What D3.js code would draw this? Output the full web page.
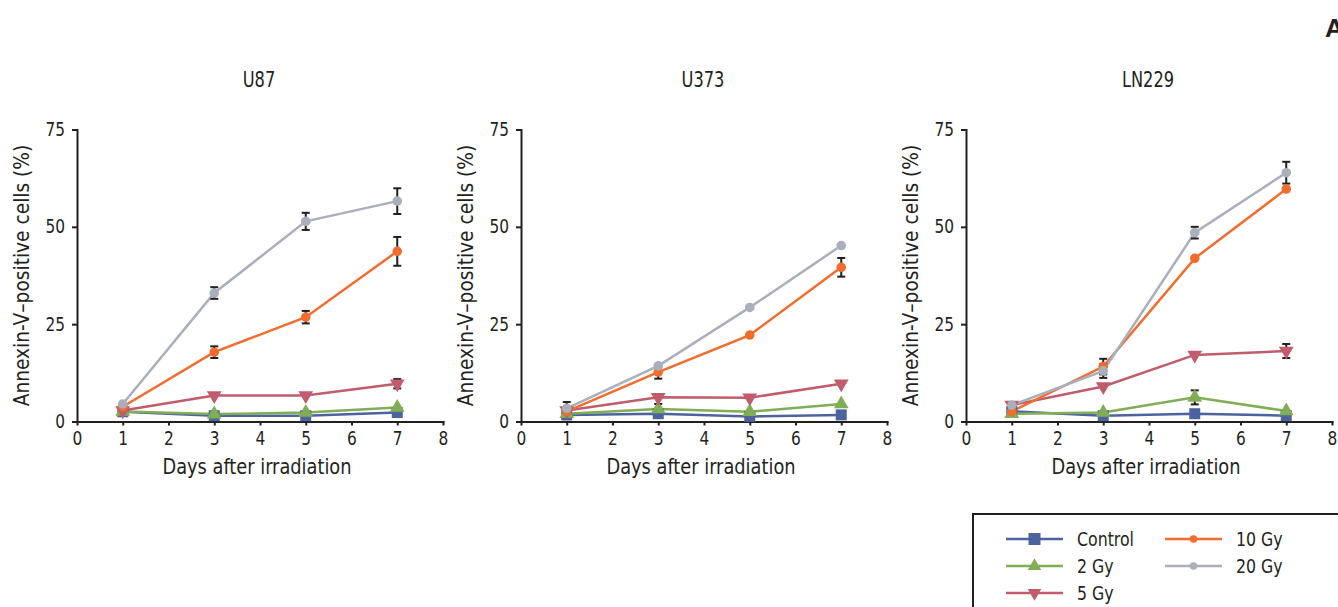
<!DOCTYPE html>
<html lang="en">
<head>
  <meta charset="utf-8">
  <title>Annexin-V positive cells after irradiation</title>
  <script src="https://d3js.org/d3.v7.min.js"></script>
  <style>
    body { margin: 0; background: #fff; }
    text {
      font-family: "DejaVu Sans Condensed", "Liberation Sans Narrow", "Roboto", sans-serif;
      fill: #231f20;
      transform-box: fill-box;
    }
    .axis path, .axis line { stroke: #231f20; stroke-width: 2; }
    .x-axis .tick text { font-size: 19px; transform-origin: center; transform: scaleX(0.9); }
    .y-axis .tick text { font-size: 19px; transform-origin: right; transform: scaleX(0.9); }
    .title { font-size: 20.5px; transform-origin: center; transform: scaleX(0.88); }
    .label { font-size: 22px; transform-origin: center; transform: scaleX(0.9); }
    .ylabel { font-size: 22px; transform-origin: center; transform: scaleX(0.94); }
    .legend text { font-size: 19.5px; transform-origin: left; transform: scaleX(0.9); }
  </style>
</head>
<body>
<svg width="1338" height="607"></svg>
<script>
  // dados
  var days = [1, 3, 5, 7];
  var cellLines = ["U87", "U373", "LN229"];
  var seriesNames = ["Control", "2 Gy", "5 Gy", "10 Gy", "20 Gy"];
  var xTicks = [0, 1, 2, 3, 4, 5, 6, 7, 8];
  var yTicks = [0, 25, 50, 75];

  var u87Control = [2.5, 1.5, 1.5, 2.3];
  var u87Gy2     = [2.6, 1.9, 2.3, 3.6];
  var u87Gy5     = [2.8, 6.7, 6.7, 9.7];
  var u87Gy10    = [3.8, 17.8, 26.8, 43.7];
  var u87Gy20    = [4.5, 33.0, 51.4, 56.6];
  var u87Gy5Err  = [0, 0, 0, 1.2];
  var u87Gy10Err = [0, 1.5, 1.6, 3.7];
  var u87Gy20Err = [0, 1.5, 2.2, 3.3];

  var u373Control = [1.7, 2.0, 1.3, 1.7];
  var u373Gy2     = [2.0, 3.2, 2.5, 4.5];
  var u373Gy5     = [2.8, 6.2, 6.1, 9.7];
  var u373Gy10    = [2.6, 12.7, 22.2, 39.6];
  var u373Gy20    = [3.4, 14.3, 29.3, 45.2];
  var u373Gy2Err  = [0, 1.3, 0, 0];
  var u373Gy5Err  = [2.2, 0, 0, 0];
  var u373Gy10Err = [0, 1.7, 0, 2.4];

  var ln229Control = [2.6, 1.5, 2.0, 1.5];
  var ln229Gy2     = [2.0, 2.3, 6.2, 2.7];
  var ln229Gy5     = [4.2, 9.0, 17.1, 18.1];
  var ln229Gy10    = [2.6, 14.1, 41.9, 59.7];
  var ln229Gy20    = [4.2, 13.0, 48.5, 63.9];
  var ln229Gy2Err  = [0, 0, 1.8, 0];
  var ln229Gy5Err  = [0, 0, 0, 1.8];
  var ln229Gy10Err = [0, 2.0, 0, 0];
  var ln229Gy20Err = [0, 1.8, 1.5, 2.8];

  var none = [0, 0, 0, 0];
  var panelData = [
    [[u87Control, none], [u87Gy2, none], [u87Gy5, u87Gy5Err], [u87Gy10, u87Gy10Err], [u87Gy20, u87Gy20Err]],
    [[u373Control, none], [u373Gy2, u373Gy2Err], [u373Gy5, u373Gy5Err], [u373Gy10, u373Gy10Err], [u373Gy20, none]],
    [[ln229Control, none], [ln229Gy2, ln229Gy2Err], [ln229Gy5, ln229Gy5Err], [ln229Gy10, ln229Gy10Err], [ln229Gy20, ln229Gy20Err]]
  ];

  var colors = ["#4d63a0", "#7fae55", "#c15c6c", "#f26d2d", "#a9afbb"];
  var shapes = ["square", "up", "down", "circle", "circle"];

  var svg = d3.select("svg");
  var panelLeft = [77, 521, 966];
  var plotW = 366, plotTop = 129.5, plotBottom = 421.5;

  var y = d3.scaleLinear().domain([0, 75]).range([plotBottom, plotTop]);

  function marker(sel, shape, color, legend) {
    if (shape === "square") {
      var h = legend ? 6 : 5.5;
      sel.append("rect").attr("x", -h).attr("y", -h)
        .attr("width", 2 * h).attr("height", 2 * h).attr("fill", color);
    } else if (shape === "circle") {
      sel.append("circle").attr("r", legend ? 3.8 : 4.8).attr("fill", color);
    } else {
      var tri = d3.symbol().type(d3.symbolTriangle).size(legend ? 80 : 95);
      var m = sel.append("path").attr("d", tri).attr("fill", color);
      if (shape === "down") m.attr("transform", "rotate(180)");
    }
  }

  cellLines.forEach(function(name, p) {
    var x = d3.scaleLinear().domain([0, 8]).range([panelLeft[p], panelLeft[p] + plotW]);
    var g = svg.append("g");

    g.append("g").attr("class", "axis x-axis")
      .attr("transform", "translate(0," + plotBottom + ")")
      .call(d3.axisBottom(x).tickValues(xTicks).tickSize(4).tickSizeOuter(0).tickPadding(6));
    g.append("g").attr("class", "axis y-axis")
      .attr("transform", "translate(" + panelLeft[p] + ",0)")
      .call(d3.axisLeft(y).tickValues(yTicks).tickSize(5).tickSizeOuter(0).tickPadding(7));
    g.selectAll(".axis .domain").attr("stroke-linecap", "square");

    g.append("text").attr("class", "title")
      .attr("x", panelLeft[p] + plotW / 2 - 1).attr("y", 87)
      .attr("text-anchor", "middle").text(name);
    g.append("text").attr("class", "label")
      .attr("x", panelLeft[p] + plotW / 2 - 3).attr("y", 474)
      .attr("text-anchor", "middle").text("Days after irradiation");
    g.append("g")
      .attr("transform", "translate(" + (panelLeft[p] - 48) + "," + ((plotTop + plotBottom) / 2) + ") rotate(-90)")
      .append("text").attr("class", "ylabel")
      .attr("text-anchor", "middle").text("Annexin-V\u2013positive cells (%)");

    var line = d3.line().x(function(d, i) { return x(days[i]); }).y(function(d) { return y(d); });

    // linhas
    panelData[p].forEach(function(s, k) {
      g.append("path").datum(s[0]).attr("d", line)
        .attr("fill", "none").attr("stroke", colors[k]).attr("stroke-width", 2.5);
    });
    // barras de erro
    panelData[p].forEach(function(s, k) {
      s[1].forEach(function(e, i) {
        if (!e) return;
        var cx = x(days[i]), y1 = y(s[0][i] + e), y2 = y(s[0][i] - e);
        var eb = g.append("g").attr("stroke", "#231f20").attr("stroke-width", 2);
        eb.append("line").attr("x1", cx).attr("x2", cx).attr("y1", y1).attr("y2", y2);
        eb.append("line").attr("x1", cx - 4).attr("x2", cx + 4).attr("y1", y1).attr("y2", y1);
        eb.append("line").attr("x1", cx - 4).attr("x2", cx + 4).attr("y1", y2).attr("y2", y2);
      });
    });
    // marcadores
    panelData[p].forEach(function(s, k) {
      s[0].forEach(function(v, i) {
        var m = g.append("g").attr("transform", "translate(" + x(days[i]) + "," + y(v) + ")");
        marker(m, shapes[k], colors[k], false);
      });
    });
  });

  // legenda
  var leg = svg.append("g").attr("class", "legend");
  leg.append("rect").attr("x", 973).attr("y", 514).attr("width", 400).attr("height", 120)
    .attr("fill", "none").attr("stroke", "#231f20").attr("stroke-width", 2);
  var legPos = [[1006, 539], [1006, 566], [1006, 593], [1165, 539], [1165, 566]];
  seriesNames.forEach(function(n, k) {
    var lg = leg.append("g").attr("transform", "translate(" + legPos[k][0] + "," + legPos[k][1] + ")");
    lg.append("line").attr("x1", 0).attr("x2", 57).attr("stroke", colors[k]).attr("stroke-width", 2.5);
    var m = lg.append("g").attr("transform", "translate(28.5,0)");
    marker(m, shapes[k], colors[k], true);
    lg.append("text").attr("x", 71).attr("y", 7).text(n);
  });

  svg.append("text").attr("x", 1325).attr("y", 37)
    .style("font-family", "Liberation Sans, Arial, sans-serif")
    .style("font-weight", "bold").style("font-size", "26px").text("A");
</script>
</body>
</html>
